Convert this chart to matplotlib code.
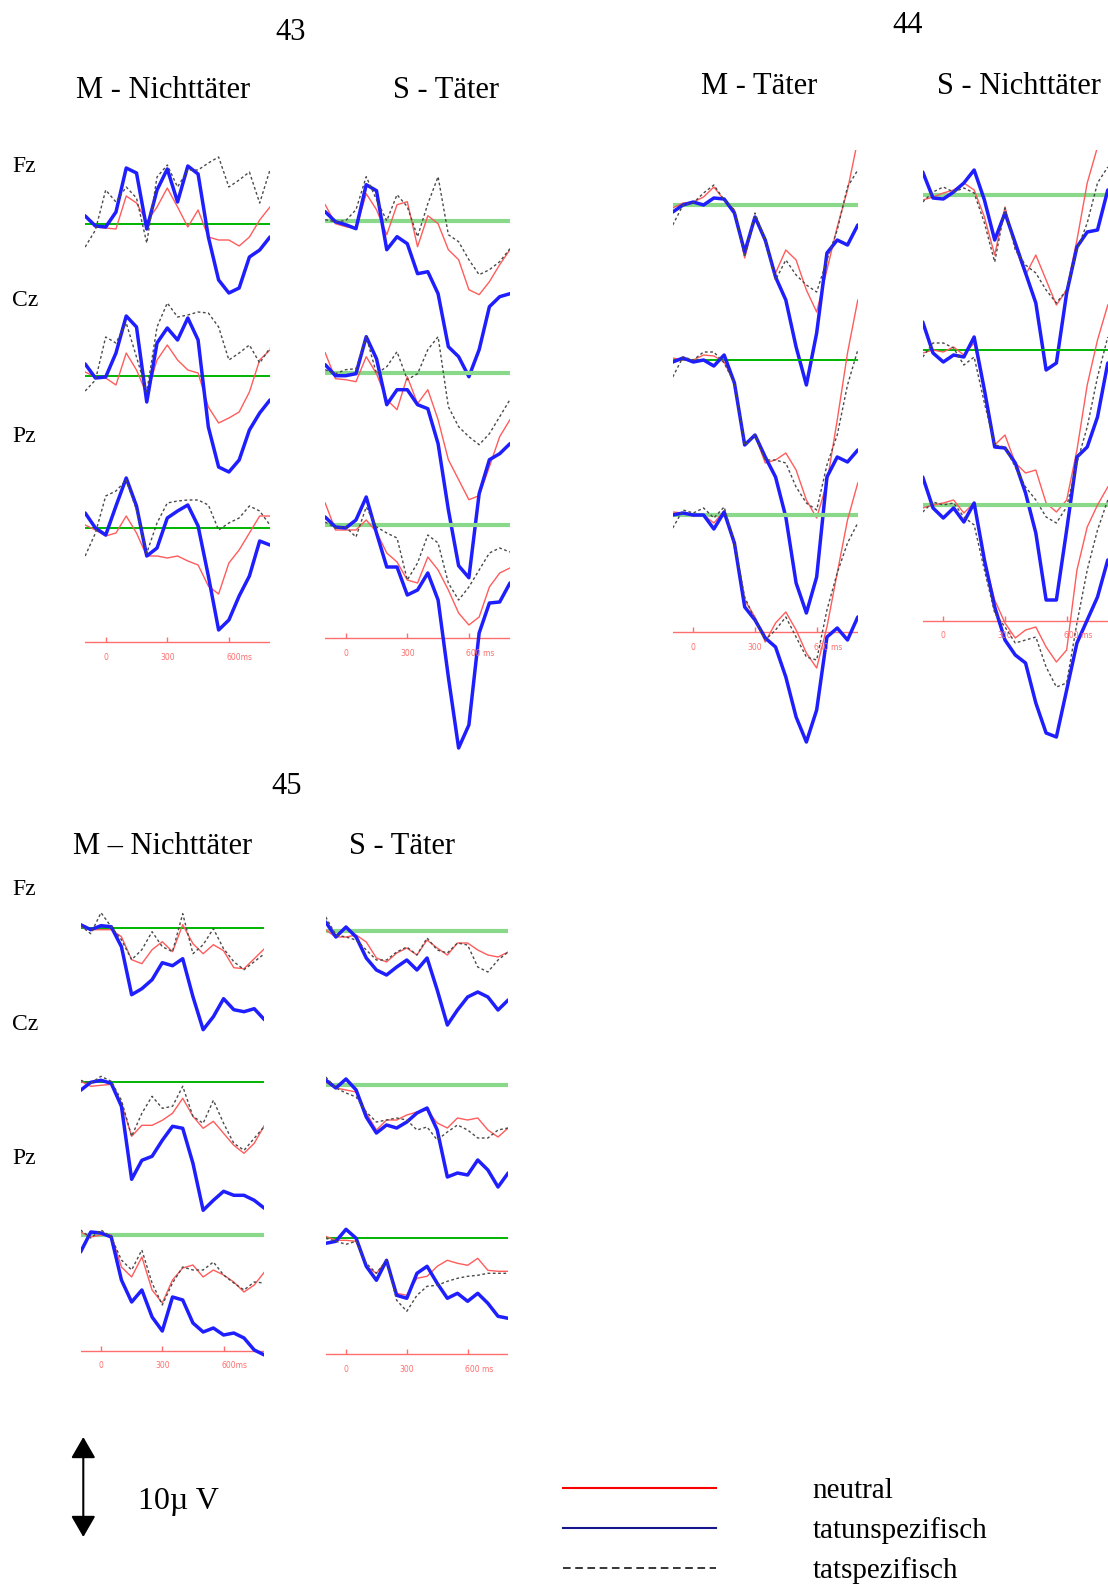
import matplotlib
matplotlib.use("Agg")
import matplotlib.pyplot as plt
from matplotlib.lines import Line2D

plt.rcParams['font.family'] = ['Liberation Serif', 'DejaVu Serif']

# sampling times of every trace (ms)
ms = list(range(-100, 801, 50))

# amplitudes in microvolt, one row per electrode (Fz, Cz, Pz); positive is drawn downwards
neutral_43M = [
    [-0.9, 0.3, 0.4, 0.5, -2.8, -2.1, -0.2, -1.7, -3.6, -1.7, 0.3, -1.4, 1.3, 1.6, 1.6, 2.2, 1.3, -0.4, -1.7],
    [-0.4, 0.1, 0.2, 0.9, -2.3, -0.6, 1.8, -1.6, -3.1, -1.6, -0.6, -0.3, 3.1, 4.7, 4.2, 3.6, 1.6, -1.6, -2.6],
    [-0.3, 0.2, 0.8, 0.5, -1.2, 0.5, 2.8, 2.8, 3.0, 2.8, 3.3, 3.7, 5.8, 6.6, 3.5, 2.2, 0.5, -1.2, -1.2],
]
tatunspez_43M = [
    [-0.8, 0.2, 0.3, -1.2, -5.6, -5.1, 0.5, -3.4, -5.5, -2.2, -5.8, -5.0, 1.3, 5.6, 6.9, 6.4, 3.3, 2.6, 1.3],
    [-1.2, 0.2, 0.1, -2.3, -6.0, -4.9, 2.6, -3.3, -4.8, -3.6, -5.8, -3.6, 5.1, 9.1, 9.6, 8.4, 5.4, 3.7, 2.4],
    [-1.5, 0.0, 0.7, -2.2, -5.0, -2.2, 2.8, 2.0, -1.0, -1.7, -2.3, -0.2, 4.8, 10.2, 9.2, 6.8, 4.8, 1.3, 1.7],
]
tatspez_43M = [
    [2.3, 0.6, -3.4, -2.2, -3.7, -2.6, 1.9, -4.7, -5.9, -3.7, -5.4, -5.4, -6.1, -6.7, -3.7, -4.4, -5.2, -2.1, -5.4],
    [1.5, 0.4, -3.9, -3.3, -5.3, -1.9, 1.6, -4.9, -7.3, -5.9, -6.1, -6.4, -6.3, -4.9, -1.6, -2.3, -3.1, -1.3, -2.8],
    [2.8, 0.5, -3.2, -3.7, -4.8, -1.8, 2.5, -0.5, -2.5, -2.7, -2.8, -2.8, -2.3, 0.2, -0.5, -1.0, -2.2, -1.7, -0.3],
]

neutral_43S = [
    [-1.6, 0.3, 0.6, 0.8, -2.7, -1.1, 1.4, -1.6, -1.9, 2.6, -0.5, 0.3, 2.9, 3.9, 6.9, 7.4, 6.1, 4.4, 2.9],
    [-2.0, 0.6, 0.7, 0.9, -1.6, 0.1, 2.7, 3.7, 0.4, 3.1, 1.7, 4.7, 8.7, 10.7, 12.7, 12.3, 9.4, 6.4, 4.7],
    [-2.2, 0.5, 0.5, 0.5, -0.5, 0.7, 2.8, 3.7, 5.5, 5.8, 3.2, 4.5, 6.5, 8.8, 10.0, 9.2, 6.2, 4.8, 4.3],
]
tatunspez_43S = [
    [-0.9, 0.1, 0.4, 0.8, -3.6, -3.0, 2.9, 1.6, 2.3, 5.3, 5.1, 7.3, 12.6, 13.6, 15.6, 12.9, 8.6, 7.6, 7.3],
    [-0.8, 0.3, 0.3, 0.1, -3.6, -1.4, 3.2, 1.7, 1.7, 3.2, 3.6, 7.1, 13.7, 19.3, 20.5, 12.1, 8.7, 8.1, 7.1],
    [-0.8, 0.2, 0.3, -0.5, -2.8, 0.8, 4.2, 4.2, 7.0, 6.5, 4.8, 7.5, 15.2, 22.3, 20.0, 10.8, 7.8, 7.7, 5.8],
]
tatspez_43S = [
    [-0.1, 0.1, 0.0, -1.1, -4.4, -2.1, 0.0, -2.6, -1.4, 1.6, -1.7, -4.4, 1.4, 2.1, 3.9, 5.4, 4.9, 4.1, 2.8],
    [-0.3, 0.1, -0.3, -0.4, -3.6, 0.1, -0.6, -2.1, 0.7, 0.1, -2.3, -3.6, 3.4, 5.4, 6.4, 7.2, 6.1, 4.4, 2.7],
    [-0.3, 0.3, 0.2, 1.2, -1.8, 0.2, 0.8, 1.3, 5.5, 3.8, 1.0, 1.8, 5.8, 7.5, 6.2, 4.5, 2.8, 2.3, 2.7],
]

neutral_44M = [
    [0.3, -0.2, -0.3, -0.8, -1.8, -0.5, 0.5, 5.3, 1.2, 3.8, 6.8, 4.5, 5.5, 8.5, 10.7, 6.5, 2.2, -1.5, -6.5],
    [-0.2, 0.0, 0.0, -0.5, -0.4, 0.2, 2.3, 8.5, 7.5, 10.3, 10.0, 9.3, 11.0, 14.0, 15.8, 12.3, 6.0, -0.7, -6.0],
    [-0.3, -0.2, 0.1, 0.0, 0.8, -0.4, 3.2, 8.5, 10.2, 12.7, 10.8, 9.7, 11.5, 13.8, 15.3, 11.2, 5.8, 0.5, -3.2],
]
tatunspez_44M = [
    [0.7, 0.0, -0.3, 0.0, -0.7, -0.6, 0.8, 4.7, 1.2, 3.5, 7.2, 9.5, 14.2, 18.0, 12.8, 4.8, 3.5, 4.0, 2.0],
    [0.2, -0.2, 0.2, 0.0, 0.6, -0.5, 2.3, 8.5, 7.5, 9.7, 11.7, 15.7, 22.3, 25.3, 21.7, 11.7, 9.7, 10.2, 9.0],
    [0.0, -0.2, 0.0, 0.0, 1.4, -0.3, 2.8, 9.2, 10.5, 12.3, 13.2, 16.2, 20.2, 22.7, 19.5, 12.2, 11.3, 12.5, 10.2],
]
tatspez_44M = [
    [2.0, 0.0, -0.2, -1.2, -2.0, -0.5, 0.5, 5.2, 0.8, 3.5, 7.5, 5.5, 7.0, 8.0, 8.7, 5.5, 2.5, -1.8, -3.5],
    [1.7, -0.3, 0.0, -0.8, -0.8, 0.3, 2.3, 8.5, 7.5, 10.0, 10.0, 10.3, 12.7, 14.3, 15.0, 10.5, 7.5, 2.5, -1.0],
    [1.3, -0.5, -0.2, -0.7, 0.3, -0.8, 2.8, 8.2, 10.5, 12.5, 11.5, 10.2, 12.2, 14.2, 14.5, 9.5, 5.8, 2.8, 0.8],
]

neutral_44S = [
    [0.5, 0.2, -0.2, -0.5, -1.2, -0.5, 2.2, 6.0, 1.2, 5.2, 8.0, 6.0, 8.5, 11.0, 9.5, 4.5, -1.2, -4.8, -7.0],
    [0.3, 0.0, 0.2, -0.3, 0.5, -0.7, 4.0, 9.5, 8.5, 11.3, 12.3, 12.0, 15.3, 16.2, 15.0, 10.0, 3.5, -1.0, -4.5],
    [0.3, 0.0, -0.2, -0.5, 0.8, -0.2, 5.5, 9.5, 11.8, 13.3, 12.5, 12.2, 14.2, 15.7, 14.5, 6.5, 2.2, 0.0, -1.8],
]
tatunspez_44S = [
    [-2.3, 0.3, 0.4, -0.3, -1.2, -2.5, 0.5, 4.5, 1.8, 4.8, 7.8, 10.8, 17.5, 16.8, 9.8, 5.2, 3.7, 3.5, -0.5],
    [-2.8, 0.3, 1.2, 0.5, 0.7, -1.3, 4.0, 9.7, 9.8, 11.3, 14.3, 18.3, 25.0, 25.0, 18.0, 10.7, 9.7, 6.7, 1.3],
    [-2.8, 0.3, 1.3, 0.3, 1.7, -0.2, 5.5, 10.2, 13.5, 15.0, 15.8, 19.8, 22.8, 23.2, 18.5, 13.8, 11.5, 9.2, 5.5],
]
tatspez_44S = [
    [0.7, -0.3, -0.8, -0.3, -0.7, -0.2, 2.8, 6.7, 1.3, 5.5, 7.0, 7.8, 9.5, 10.8, 9.5, 5.5, 2.8, -1.2, -2.8],
    [0.7, -0.7, -0.7, -0.2, 1.5, 0.7, 5.3, 9.5, 9.7, 11.7, 13.7, 15.0, 16.7, 17.3, 15.7, 11.3, 7.7, 2.7, -1.3],
    [0.7, -0.3, 0.0, -0.2, 1.2, 2.0, 6.5, 10.8, 12.2, 13.8, 13.5, 13.2, 16.2, 18.2, 17.8, 11.8, 6.5, 2.5, -0.5],
]

neutral_45M = [
    [-0.1, 0.2, 0.2, 0.2, 0.9, 3.2, 3.6, 2.2, 1.4, 2.4, -0.3, 1.6, 2.6, 1.7, 2.3, 4.0, 4.1, 3.1, 2.1],
    [-0.1, 0.4, 0.3, 0.2, 2.1, 5.4, 4.3, 4.3, 3.8, 3.1, 1.6, 3.4, 4.6, 3.9, 5.1, 6.3, 7.1, 6.1, 4.3],
    [-0.3, 0.2, 0.0, 0.0, 3.2, 4.2, 2.2, 5.5, 6.8, 4.5, 3.3, 3.0, 4.2, 3.5, 4.0, 4.7, 5.7, 5.0, 3.7],
]
tatunspez_45M = [
    [-0.3, 0.2, -0.2, -0.1, 1.9, 6.7, 6.1, 5.2, 3.5, 3.8, 3.1, 6.9, 10.2, 8.9, 7.1, 8.2, 8.4, 8.1, 9.2],
    [0.8, 0.0, -0.2, 0.1, 2.4, 9.7, 7.8, 7.4, 5.8, 4.4, 4.6, 8.1, 12.8, 11.8, 10.9, 11.3, 11.3, 11.8, 12.6],
    [1.7, -0.3, -0.2, 0.2, 4.5, 6.7, 5.5, 8.2, 9.6, 6.2, 6.5, 8.8, 9.7, 9.3, 10.0, 9.8, 10.3, 11.5, 12.0],
]
tatspez_45M = [
    [-0.2, 0.6, -1.5, -0.1, 1.2, 3.2, 2.2, 0.4, 1.9, 2.4, -1.4, 2.6, 1.7, 0.1, 2.1, 3.4, 4.2, 3.4, 2.6],
    [-0.2, 0.1, -0.6, -0.1, 1.8, 5.4, 3.1, 1.4, 2.6, 2.4, 0.4, 3.4, 4.1, 1.8, 4.1, 6.1, 6.8, 5.6, 4.4],
    [-0.5, 0.3, -0.5, 0.2, 2.5, 3.5, 1.5, 4.8, 7.0, 4.8, 3.2, 3.5, 3.5, 2.7, 4.0, 4.8, 5.5, 4.7, 4.8],
]

neutral_45S = [
    [-0.1, 0.6, 0.6, 0.4, 1.1, 2.7, 3.1, 2.2, 1.7, 2.4, 0.9, 1.7, 2.4, 1.2, 1.2, 1.9, 2.4, 2.6, 2.1],
    [-0.3, 0.3, 0.5, 0.7, 2.8, 4.5, 3.5, 3.5, 3.0, 2.7, 2.5, 3.8, 4.3, 3.3, 3.5, 3.3, 4.5, 5.2, 4.3],
    [-0.2, 0.2, 0.2, 0.3, 2.8, 3.5, 2.2, 5.5, 5.7, 4.0, 3.8, 2.8, 2.2, 2.5, 2.7, 2.0, 3.2, 3.3, 3.3],
]
tatunspez_45S = [
    [-0.9, 0.6, -0.4, 0.6, 2.7, 3.9, 4.4, 3.6, 2.9, 3.9, 2.7, 5.9, 9.4, 7.9, 6.6, 6.1, 6.6, 7.9, 6.9],
    [-0.5, 0.3, -0.6, 0.5, 3.2, 4.8, 4.0, 4.3, 3.7, 2.8, 2.3, 4.5, 9.2, 8.8, 9.0, 7.5, 8.5, 10.2, 8.8],
    [0.5, 0.3, -0.9, 0.0, 2.8, 4.2, 2.2, 5.7, 6.0, 3.5, 2.8, 4.5, 6.0, 5.5, 6.3, 5.5, 6.5, 7.8, 8.0],
]
tatspez_45S = [
    [-1.4, 0.4, 0.6, 0.9, 1.9, 2.9, 2.9, 2.1, 1.6, 2.4, 0.7, 1.9, 2.2, 1.2, 1.4, 3.6, 4.1, 2.9, 2.1],
    [-0.8, 0.3, 0.8, 1.2, 2.7, 3.7, 3.5, 3.3, 3.5, 4.5, 4.2, 5.5, 4.7, 4.0, 4.5, 5.3, 5.3, 4.5, 4.3],
    [0.0, 0.3, 0.6, 0.3, 2.5, 3.5, 2.2, 6.2, 7.3, 5.7, 4.8, 4.7, 4.3, 4.0, 3.8, 3.7, 3.5, 3.5, 3.5],
]

electrodes = ['Fz', 'Cz', 'Pz']
tick_ms = [0, 300, 600]
scale_uv = 10
legend_labels = ['neutral', 'tatunspezifisch', 'tatspezifisch']

W, H = 1108, 1584
PX_PER_UV = 10

RED = '#ff5c5c'
BLUE = '#1e1eff'
GREY = '#4a4a4a'
GREEN_THIN = '#00b400'
GREEN_WIDE = '#8ad88a'
AXIS_RED = '#ff6e6e'

fig = plt.figure(figsize=(W / 100, H / 100), dpi=100)


def fx(px):
    return px / W


def fy(py):
    return 1 - py / H


# one column of three stacked traces: pixel of 0 ms, pixels per ms, baselines (Fz, Cz, Pz),
# y of the time axis, which baselines are drawn wide, tick labels, clip top/bottom
columns = [
    dict(data=(neutral_43M, tatunspez_43M, tatspez_43M), zero=105.7, k=0.2053,
         base=(224, 376, 528), axis=642, wide=(0, 0, 0), ticks=['0', '300', '600ms'], clip=(120, 770)),
    dict(data=(neutral_43S, tatunspez_43S, tatspez_43S), zero=345.7, k=0.2053,
         base=(220.7, 372.7, 525), axis=638.3, wide=(1, 1, 1), ticks=['0', '300', '600 ms'], clip=(120, 770)),
    dict(data=(neutral_44M, tatunspez_44M, tatspez_44M), zero=693.3, k=0.2056,
         base=(205, 360, 515), axis=632.3, wide=(1, 0, 1), ticks=['0', '300', '600 ms'], clip=(150, 770)),
    dict(data=(neutral_44S, tatunspez_44S, tatspez_44S), zero=943.3, k=0.2056,
         base=(195, 350, 505), axis=620.7, wide=(1, 0, 1), ticks=['0', '300', '600 ms'], clip=(150, 770)),
    dict(data=(neutral_45M, tatunspez_45M, tatspez_45M), zero=101.0, k=0.2043,
         base=(927.7, 1082.3, 1235), axis=1351, wide=(0, 0, 1), ticks=['0', '300', '600ms'], clip=(870, 1400)),
    dict(data=(neutral_45S, tatunspez_45S, tatspez_45S), zero=346.0, k=0.2027,
         base=(931, 1085, 1238.3), axis=1354, wide=(1, 1, 0), ticks=['0', '300', '600 ms'], clip=(870, 1400)),
]

for i, col in enumerate(columns):
    left = col['zero'] - 100 * col['k']
    right = col['zero'] + 800 * col['k']
    top, bottom = col['clip']
    neutral, unspez, spez = col['data']
    for r in range(3):
        base = col['base'][r]
        ax = fig.add_axes([fx(left), fy(bottom), (right - left) / W, (bottom - top) / H],
                          label=f'c{i}r{r}')
        ax.set_xlim(-100, 800)
        ax.set_ylim((bottom - base) / PX_PER_UV, (top - base) / PX_PER_UV)
        ax.axis('off')
        ax.set_facecolor('none')
        if col['wide'][r]:
            ax.axhline(0, color=GREEN_WIDE, lw=3.0, zorder=1)
        else:
            ax.axhline(0, color=GREEN_THIN, lw=1.4, zorder=1)
        ax.plot(ms, neutral[r], color=RED, lw=1.0, zorder=2, solid_joinstyle='round')
        ax.plot(ms, unspez[r], color=BLUE, lw=2.5, zorder=3,
                solid_joinstyle='round', solid_capstyle='round')
        ax.plot(ms, spez[r], color=GREY, lw=1.0, ls=(0, (2, 1.8)), zorder=4)

    # time axis under the Pz traces
    yax = (col['axis'] - col['base'][2]) / PX_PER_UV
    ax.axhline(yax, color=AXIS_RED, lw=1.0, zorder=1)
    ax.vlines(tick_ms, yax - 0.5, yax, color=AXIS_RED, lw=1.0)
    for t, lab in zip(tick_ms, col['ticks']):
        ha = 'left' if t == tick_ms[-1] else 'center'
        ax.text(t - (12 if ha == 'left' else 0), yax + 1.5, lab, ha=ha, va='center',
                fontsize=5.5, color=AXIS_RED, family='DejaVu Sans')

# block numbers, column titles and electrode names
titles = [
    ('43', 291, 40, 'center'), ('M - Nichttäter', 76, 98, 'left'), ('S - Täter', 393, 98, 'left'),
    ('44', 908, 33, 'center'), ('M - Täter', 701, 94, 'left'), ('S - Nichttäter', 937, 94, 'left'),
    ('45', 287, 794, 'center'), ('M – Nichttäter', 73, 854, 'left'), ('S - Täter', 349, 854, 'left'),
]
for s, x, y, ha in titles:
    fig.text(fx(x), fy(y), s, ha=ha, va='baseline', fontsize=22)

for ys in [(172, 306, 442), (895, 1030, 1164)]:
    for name, y in zip(electrodes, ys):
        fig.text(fx(12), fy(y), name, ha='left', va='baseline', fontsize=17)

# scale bar, 10 px per microvolt like the traces
bottom_tip = 1537
sax = fig.add_axes([fx(58.3), fy(1550), 50 / W, 130 / H], label='scale')
sax.set_xlim(0, 1)
sax.set_ylim(-(1550 - bottom_tip) / PX_PER_UV, (bottom_tip - 1420) / PX_PER_UV)
sax.axis('off')
sax.annotate('', xy=(0.5, scale_uv), xytext=(0.5, 0),
             arrowprops=dict(arrowstyle='<|-|>,head_length=1.3,head_width=0.75',
                             mutation_scale=10, lw=1.5, color='black', shrinkA=0, shrinkB=0))
fig.text(fx(138), fy(1508.7), f'{scale_uv}µ V', ha='left', va='baseline', fontsize=23)

handles = [
    Line2D([], [], color='#ff0000', lw=1.5),
    Line2D([], [], color='#16168f', lw=1.5),
    Line2D([], [], color='black', lw=1.1, ls=(0, (5, 3))),
]
fig.legend(handles=handles, labels=legend_labels, loc='upper left',
           bbox_to_anchor=(fx(563), fy(1478)), frameon=False, fontsize=21,
           handlelength=5.25, handletextpad=3.3, labelspacing=0.44,
           borderpad=0, borderaxespad=0)

fig.savefig('out.png', dpi=100, facecolor='white')
